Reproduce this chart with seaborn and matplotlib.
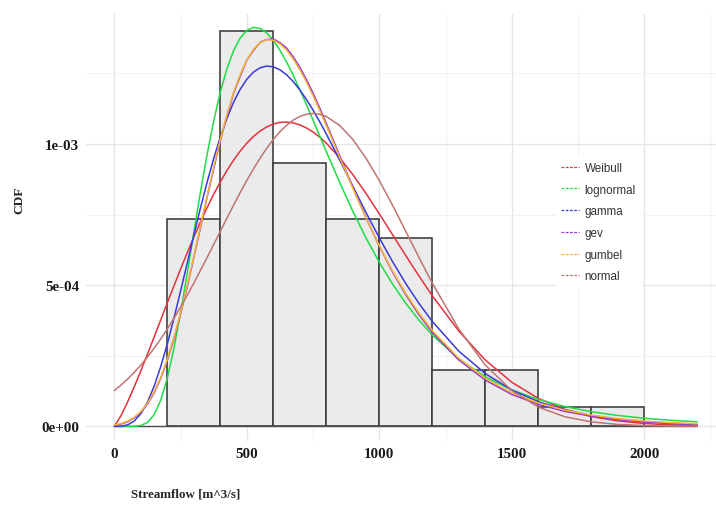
import numpy as np
import pandas as pd
import matplotlib
matplotlib.use("Agg")
import matplotlib.pyplot as plt
import seaborn as sns
from matplotlib.ticker import FixedLocator

# -------------------- DATA --------------------
bin_edges = [200, 400, 600, 800, 1000, 1200, 1400, 1600, 1800, 2000]
bin_counts = [11, 21, 14, 11, 10, 3, 3, 1, 1]

flow = [0, 25, 50, 75, 100, 125, 150, 175, 200, 225, 250, 275, 300, 325, 350, 375,
        400, 425, 450, 475, 500, 525, 550, 575, 600, 625, 650, 675, 700, 725, 750, 775,
        800, 850, 900, 950, 1000, 1050, 1100, 1150, 1200,
        1300, 1400, 1500, 1600, 1700, 1800, 1900, 2000, 2100, 2200]

weibull = [0, 3.758e-5, 8.62e-5, 1.3986e-4, 1.966e-4, 2.5567e-4, 3.158e-4, 3.7659e-4,
           4.374e-4, 4.9769e-4, 5.569e-4, 6.1461e-4, 6.704e-4, 7.237e-4, 7.743e-4, 8.2183e-4,
           8.658e-4, 9.0626e-4, 9.427e-4, 9.7502e-4, 1.003e-3, 1.0267e-3, 1.0458e-3, 1.0605e-3,
           1.0707e-3, 1.0764e-3, 1.0777e-3, 1.0747e-3, 1.0678e-3, 1.057e-3, 1.0424e-3, 1.0243e-3,
           1.003e-3, 9.521e-4, 8.918e-4, 8.247e-4, 7.529e-4, 6.789e-4, 6.047e-4, 5.321e-4, 4.627e-4,
           3.377e-4, 2.351e-4, 1.562e-4, 9.91e-5, 6.01e-5, 3.47e-5, 1.92e-5, 1.01e-5, 5.1e-6, 2.5e-6]
lognormal = [0, 0, 0, 3e-7, 2.9e-6, 1.37e-5, 4.1e-5, 9.23e-5,
             1.711e-4, 2.763e-4, 4.025e-4, 5.421e-4, 6.871e-4, 8.293e-4, 9.623e-4, 1.0817e-3,
             1.1839e-3, 1.2669e-3, 1.3305e-3, 1.3754e-3, 1.4024e-3, 1.4131e-3, 1.4095e-3, 1.3936e-3,
             1.3672e-3, 1.3323e-3, 1.2906e-3, 1.2437e-3, 1.1929e-3, 1.1396e-3, 1.0846e-3, 1.029e-3,
             9.735e-4, 8.649e-4, 7.62e-4, 6.671e-4, 5.81e-4, 5.04e-4, 4.357e-4, 3.759e-4, 3.235e-4,
             2.388e-4, 1.758e-4, 1.293e-4, 9.52e-5, 7.02e-5, 5.19e-5, 3.85e-5, 2.86e-5, 2.14e-5, 1.6e-5]
gamma = [0, 5e-7, 5.1e-6, 1.86e-5, 4.49e-5, 8.59e-5, 1.415e-4, 2.114e-4,
         2.924e-4, 3.829e-4, 4.79e-4, 5.78e-4, 6.769e-4, 7.731e-4, 8.642e-4, 9.486e-4,
         1.0245e-3, 1.0912e-3, 1.1477e-3, 1.1938e-3, 1.2293e-3, 1.2546e-3, 1.27e-3, 1.2761e-3,
         1.2734e-3, 1.2629e-3, 1.2453e-3, 1.2213e-3, 1.1919e-3, 1.1579e-3, 1.1201e-3, 1.0791e-3,
         1.0358e-3, 9.444e-4, 8.505e-4, 7.574e-4, 6.678e-4, 5.835e-4, 5.057e-4, 4.351e-4, 3.717e-4,
         2.664e-4, 1.869e-4, 1.288e-4, 8.73e-5, 5.83e-5, 3.85e-5, 2.52e-5, 1.63e-5, 1.04e-5, 6.6e-6]
gev = [3e-6, 8e-6, 1.6e-5, 3.0e-5, 4.9e-5, 7.9e-5, 1.18e-4, 1.7e-4,
       2.34e-4, 3.1e-4, 3.98e-4, 4.94e-4, 5.98e-4, 7.03e-4, 8.11e-4, 9.12e-4,
       1.012e-3, 1.098e-3, 1.179e-3, 1.24e-3, 1.297e-3, 1.331e-3, 1.36e-3, 1.37e-3,
       1.372e-3, 1.359e-3, 1.34e-3, 1.309e-3, 1.272e-3, 1.228e-3, 1.18e-3, 1.128e-3,
       1.073e-3, 9.6e-4, 8.47e-4, 7.39e-4, 6.38e-4, 5.47e-4, 4.66e-4, 3.95e-4, 3.33e-4,
       2.35e-4, 1.64e-4, 1.13e-4, 7.8e-5, 5.3e-5, 3.6e-5, 2.45e-5, 1.65e-5, 1.1e-5, 7.3e-6]
gumbel = [4.9e-6, 9.8e-6, 1.83e-5, 3.19e-5, 5.24e-5, 8.19e-5, 1.219e-4, 1.739e-4,
          2.382e-4, 3.148e-4, 4.021e-4, 4.99e-4, 6.022e-4, 7.087e-4, 8.154e-4, 9.187e-4,
          1.0159e-3, 1.1041e-3, 1.1815e-3, 1.2463e-3, 1.2975e-3, 1.3349e-3, 1.3587e-3, 1.3694e-3,
          1.3677e-3, 1.355e-3, 1.3325e-3, 1.3014e-3, 1.2632e-3, 1.2193e-3, 1.1709e-3, 1.1191e-3,
          1.0652e-3, 9.54e-4, 8.435e-4, 7.379e-4, 6.397e-4, 5.505e-4, 4.709e-4, 4.007e-4, 3.395e-4,
          2.414e-4, 1.7e-4, 1.189e-4, 8.28e-5, 5.74e-5, 3.98e-5, 2.75e-5, 1.9e-5, 1.31e-5, 9.0e-6]
normal = [1.266e-4, 1.459e-4, 1.674e-4, 1.911e-4, 2.171e-4, 2.455e-4, 2.764e-4, 3.095e-4,
          3.45e-4, 3.826e-4, 4.224e-4, 4.641e-4, 5.073e-4, 5.521e-4, 5.978e-4, 6.442e-4,
          6.909e-4, 7.373e-4, 7.832e-4, 8.278e-4, 8.708e-4, 9.116e-4, 9.497e-4, 9.847e-4,
          1.0161e-3, 1.0434e-3, 1.0662e-3, 1.0844e-3, 1.0975e-3, 1.1055e-3, 1.1082e-3, 1.1055e-3,
          1.0975e-3, 1.0662e-3, 1.0161e-3, 9.497e-4, 8.708e-4, 7.832e-4, 6.909e-4, 5.978e-4, 5.073e-4,
          3.45e-4, 2.171e-4, 1.266e-4, 6.83e-5, 3.41e-5, 1.58e-5, 6.7e-6, 2.7e-6, 1.0e-6, 3e-7]

fit_names = ["Weibull", "lognormal", "gamma", "gev", "gumbel", "normal"]
fit_colors = ["#e3323d", "#1fdc45", "#3a3ad8", "#9a35cf", "#f6b436", "#c07474"]

x_ticks = [0, 500, 1000, 1500, 2000]
x_labels = ["0", "500", "1000", "1500", "2000"]
y_ticks = [0, 5e-4, 1e-3]
y_labels = ["0e+00", "5e-04", "1e-03"]

# -------------------- FIGURE --------------------
sns.set_style("white")
plt.rcParams["font.family"] = ["Liberation Serif", "DejaVu Serif"]

fig = plt.figure(figsize=(7.16, 5.06), dpi=100)
ax = fig.add_axes([86 / 716, 64 / 506, 630 / 716, 427 / 506])

# histogram
centers = [(a + b) / 2 for a, b in zip(bin_edges[:-1], bin_edges[1:])]
sns.histplot(x=centers, weights=bin_counts, bins=bin_edges, stat="density",
             color="#ebebeb", edgecolor="#3a3a3a", linewidth=1.15, alpha=1, ax=ax)

ax.hlines(0, flow[0], flow[-1], color="#4a4a4a", linewidth=1.0, zorder=2)

# fitted densities
curves = pd.DataFrame({
    "flow": flow * len(fit_names),
    "density": weibull + lognormal + gamma + gev + gumbel + normal,
    "fit": [n for n in fit_names for _ in flow],
})
sns.lineplot(data=curves, x="flow", y="density", hue="fit", hue_order=fit_names,
             palette=dict(zip(fit_names, fit_colors)), linewidth=1.1,
             estimator=None, sort=False, ax=ax, zorder=3)

# axes
ax.set_xlim(-107, 2271)
ax.set_ylim(-5.2e-5, 1.4605e-3)
ax.set_xticks(x_ticks)
ax.set_xticklabels(x_labels)
ax.set_yticks(y_ticks)
ax.set_yticklabels(y_labels)
ax.xaxis.set_minor_locator(FixedLocator([250, 750, 1250, 1750, 2250]))
ax.yaxis.set_minor_locator(FixedLocator([2.5e-4, 7.5e-4, 1.25e-3]))
ax.grid(which="major", color="#e6e6e6", linewidth=1.0)
ax.grid(which="minor", color="#f1f1f1", linewidth=0.8)
ax.set_axisbelow(True)
for s in ax.spines.values():
    s.set_visible(False)
ax.tick_params(which="both", length=0)
ax.tick_params(axis="x", pad=4, labelsize=10.8, labelcolor="#1a1a1a")
ax.tick_params(axis="y", pad=5, labelsize=10.8, labelcolor="#1a1a1a")
for t in ax.get_xticklabels() + ax.get_yticklabels():
    t.set_fontweight("bold")

ax.set_xlabel("Streamflow [m^3/s]", fontsize=9.4, fontweight="bold")
ax.set_ylabel("CDF", fontsize=9.6, fontweight="bold")
ax.xaxis.set_label_coords(0.159, -0.108)
ax.yaxis.set_label_coords(-0.097, 0.567)

# legend
handles, labels = ax.get_legend_handles_labels()
leg = ax.legend(handles, labels, loc="upper left", bbox_to_anchor=(0.736, 0.681),
                frameon=True, facecolor="white", edgecolor="none", framealpha=1,
                fancybox=False, prop={"family": "Liberation Sans", "size": 8.4},
                handlelength=1.55, handletextpad=0.45, labelspacing=0.83,
                borderpad=0.5, labelcolor="#333333")
for h in leg.legend_handles:
    h.set_linestyle((0, (2.2, 1.2)))
    h.set_linewidth(0.9)

plt.savefig("out.png", dpi=100)
